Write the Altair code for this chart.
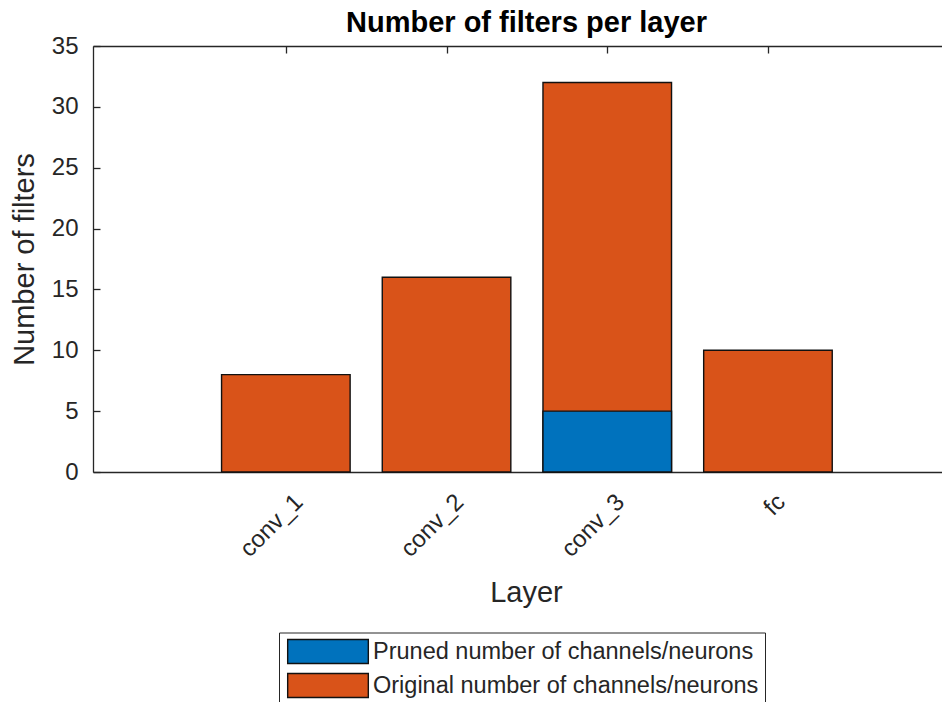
import altair as alt
import pandas as pd

# ---- data ----
layer_names = ["conv_1", "conv_2", "conv_3", "fc"]
layer_pos = [1, 2, 3, 4]
original_filters = [8, 16, 32, 10]
pruned_filters = [0, 0, 5, 0]
series_labels = ["Pruned number of channels/neurons", "Original number of channels/neurons"]
series_colors = ["#0072BD", "#D95319"]
y_tick_values = [0, 5, 10, 15, 20, 25, 30, 35]
x_limits = [-0.2, 5.083]
y_limits = [0, 35]
bar_width = 0.8

rows = []
for name, pos, val in zip(layer_names, layer_pos, original_filters):
    rows.append({"layer": name, "pos": pos, "series": series_labels[1], "value": val, "z": 0})
for name, pos, val in zip(layer_names, layer_pos, pruned_filters):
    if val > 0:
        rows.append({"layer": name, "pos": pos, "series": series_labels[0], "value": val, "z": 1})
df = pd.DataFrame(rows)

FONT = "Liberation Sans"
AX = "#262626"
EDGE = "#111111"
W, H = 849, 426
TICK = 7

label_expr = "[" + ",".join(f"'{n}'" for n in layer_names) + "][datum.value - 1]"

base = alt.Chart(df).transform_calculate(
    x0=f"datum.pos - {bar_width / 2}",
    x1=f"datum.pos + {bar_width / 2}",
    base0="0",
)
xs = alt.Scale(domain=x_limits, nice=False, zero=False, padding=0)
ys = alt.Scale(domain=y_limits, nice=False, zero=True, padding=0)

bars = base.mark_bar(stroke=EDGE, strokeWidth=1.4, opacity=1).encode(
    x=alt.X("x0:Q", scale=xs, axis=alt.Axis(
        orient="bottom", values=layer_pos, labelExpr=label_expr,
        labelAngle=-45, labelAlign="right", labelBaseline="middle",
        labelPadding=26, labelOffset=13, labelFontSize=24, labelFont=FONT,
        labelColor=AX, labelFlush=False, labelOverlap=False,
        ticks=False, tickSize=0, domain=True, domainColor=AX, domainWidth=1.3,
        grid=False, title="Layer", titleFontSize=29, titleFont=FONT,
        titleFontWeight="normal", titleColor=AX, titleX=433, titleY=129,
        titleBaseline="alphabetic", titleAlign="center")),
    x2="x1:Q",
    y=alt.Y("value:Q", scale=ys, stack=None, axis=alt.Axis(
        orient="left", values=y_tick_values, ticks=False, tickSize=0,
        labelPadding=15, labelFontSize=24, labelFont=FONT, labelColor=AX,
        labelFlush=False, labelOverlap=False,
        domainColor=AX, domainWidth=1.3, grid=False,
        title="Number of filters", titleFontSize=29, titleFont=FONT,
        titleFontWeight="normal", titleColor=AX, titleX=-60,
        titleBaseline="alphabetic")),
    y2="base0:Q",
    color=alt.Color("series:N", scale=alt.Scale(domain=series_labels, range=series_colors),
                    legend=alt.Legend(
                        orient="none", legendX=186, legendY=586.5, direction="vertical",
                        title=None, symbolType="M-3.36,-1H3.36V1H-3.36Z", symbolSize=576,
                        symbolStrokeColor=EDGE, symbolStrokeWidth=1.4, symbolOpacity=1,
                        symbolOffset=30, labelOffset=32, labelFontSize=23.5,
                        labelFont=FONT, labelColor=AX, rowPadding=4, padding=6,
                        strokeColor=AX, fillColor="#ffffff", labelLimit=800)),
    order=alt.Order("z:Q"),
)

ghost = base.mark_bar(opacity=0)

ticks_bl = ghost.encode(
    x=alt.X("x0:Q", scale=xs, axis=alt.Axis(
        orient="bottom", values=layer_pos, offset=-TICK, tickSize=TICK, labels=False,
        domain=False, grid=False, title=None, tickColor=AX, tickWidth=1.3)),
    x2="x1:Q",
    y=alt.Y("value:Q", scale=ys, stack=None, axis=alt.Axis(
        orient="left", values=y_tick_values, offset=-TICK, tickSize=TICK, labels=False,
        domain=False, grid=False, title=None, tickColor=AX, tickWidth=1.3)),
)

top_dom = ghost.encode(
    x=alt.X("x0:Q", scale=xs, axis=alt.Axis(
        orient="top", values=layer_pos, labels=False, ticks=False, domain=True,
        domainColor=AX, domainWidth=1.3, grid=False, title=None)),
    x2="x1:Q",
    y=alt.Y("value:Q", scale=ys, stack=None, axis=None),
)

top_ticks = ghost.encode(
    x=alt.X("x0:Q", scale=xs, axis=alt.Axis(
        orient="top", values=layer_pos, offset=-TICK, tickSize=TICK, labels=False,
        domain=False, grid=False, title=None, tickColor=AX, tickWidth=1.3)),
    x2="x1:Q",
    y=alt.Y("value:Q", scale=ys, stack=None, axis=None),
)

chart = alt.layer(bars, ticks_bl, top_dom, top_ticks).resolve_scale(
    x="shared", y="shared"
).resolve_axis(
    x="independent", y="independent"
).properties(
    width=W, height=H,
    title=alt.Title("Number of filters per layer", font=FONT, fontSize=29,
                    fontWeight="bold", color="#000000", anchor="middle",
                    frame="group", offset=-27, baseline="alphabetic", dx=9),
    autosize=alt.AutoSizeParams(type="none"),
    padding={"left": 85, "top": 38, "right": 0, "bottom": 230},
).configure_view(stroke=None)

chart.save("out.html", embed_options={"renderer": "svg", "actions": False})
